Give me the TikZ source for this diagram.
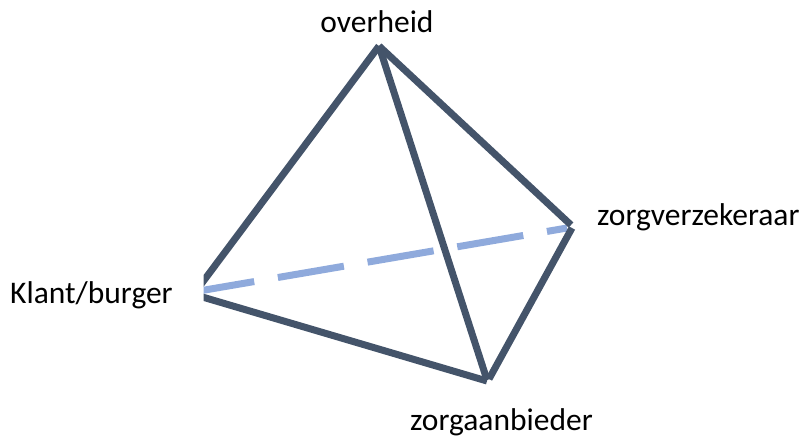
\documentclass[tikz,border=0pt]{standalone}
\usepackage{fontspec}
\setmainfont{Carlito}
\definecolor{edgedark}{HTML}{44546A}
\definecolor{edgelight}{HTML}{8FAADC}
\begin{document}
\begin{tikzpicture}[x=1pt,y=-1pt,
  edge/.style={draw=edgedark,line width=7pt,line cap=butt},
  hidden/.style={draw=edgelight,line width=7pt,line cap=butt,dash pattern=on 67pt off 24pt,dash phase=11pt},
  lbl/.style={inner sep=0pt,font=\fontsize{31.5}{37}\selectfont}]
\useasboundingbox (0,0) rectangle (810,441);
% vertices
\coordinate (top) at (379,46);
\coordinate (leftA) at (199,287);
\coordinate (leftB) at (199,296);
\coordinate (leftD) at (199,291);
\coordinate (rightA) at (571,225);
\coordinate (rightB) at (572,228);
\coordinate (rightD) at (567,228);
\coordinate (botA) at (487,381);
\coordinate (botB) at (489,379);
\coordinate (botC) at (487,380);
% labels
\node[lbl,anchor=base] (overheid) at (377,33) {overheid};
\node[lbl,anchor=base west] (klant) at (10,303) {Klant/burger};
\node[lbl,anchor=base west] (verz) at (597,225) {zorgverzekeraar};
\node[lbl,anchor=base west] (aanb) at (410,430) {zorgaanbieder};
\begin{scope}
\clip (203.5,0) rectangle (810,441);
\draw[hidden] (leftD) -- (rightD);
\draw[edge] (top) -- (leftA);
\draw[edge] (leftB) -- (botA);
\end{scope}
\draw[edge] (top) -- (rightA);
\draw[edge] (top) -- (botC);
\draw[edge] (rightB) -- (botB);
\end{tikzpicture}
\end{document}
